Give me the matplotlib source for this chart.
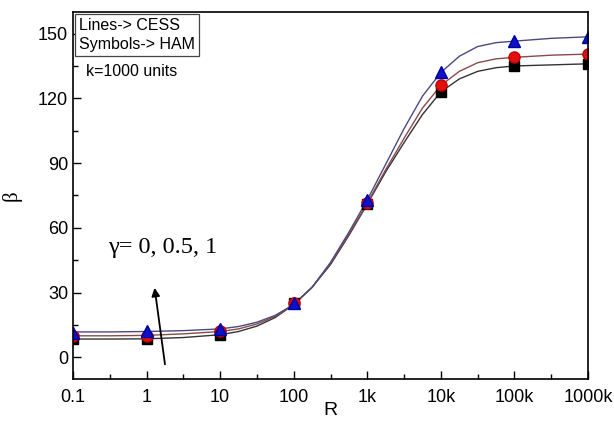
import matplotlib.pyplot as plt
from matplotlib.ticker import FixedLocator

# HAM symbols
r_pts = [0.1, 1, 10, 100, 1e3, 1e4, 1e5, 1e6]
ham_g0 = [8.5, 8.5, 10.5, 25, 71, 123, 135, 136]
ham_g05 = [10, 10, 12, 25, 71.5, 126, 139, 140.5]
ham_g1 = [11.5, 12, 13, 25, 73, 132, 146.5, 148.5]

# CESS lines (quarter decades where they bend)
r_line = [0.1, 0.316, 1, 3.16, 10, 17.8, 31.6, 56.2, 100, 178, 316, 562,
          1e3, 1.78e3, 3.16e3, 5.62e3, 1e4, 1.78e4, 3.16e4, 5.62e4, 1e5, 3.16e5, 1e6]
cess_g0 = [8.5, 8.5, 8.6, 9.2, 10.5, 12, 14.5, 18.5, 24.5, 32.5, 43, 56.5,
           71, 86, 99.5, 112.5, 123, 129, 132.5, 134.2, 135, 135.5, 136]
cess_g05 = [10, 10, 10.2, 10.9, 12, 13.2, 15.5, 19, 24.5, 32.5, 43.5, 57,
            71.5, 87, 101.5, 115.5, 126, 132.5, 136.5, 138.3, 139, 140, 140.5]
cess_g1 = [11.8, 11.8, 12, 12.4, 13.2, 14.3, 16.3, 19.5, 24.5, 32.5, 44, 58,
           73, 89.5, 106, 121, 132, 139.5, 144, 145.8, 146.5, 147.8, 148.5]

x_ticks = [0.1, 1, 10, 100, 1e3, 1e4, 1e5, 1e6]
x_labels = ["0.1", "1", "10", "100", "1k", "10k", "100k", "1000k"]

plt.rcParams['font.family'] = ['Liberation Sans', 'DejaVu Sans']

fig = plt.figure(figsize=(6.14, 4.21), dpi=100)
ax = fig.add_axes([0.1189, 0.0998, 0.8388, 0.8717])

ax.plot(r_line, cess_g0, color="#333333", lw=1.0)
ax.plot(r_line, cess_g05, color="#8a4a4a", lw=1.0)
ax.plot(r_line, cess_g1, color="#4a4a80", lw=1.0)

ax.plot(r_pts, ham_g0, "s", color="black", ms=7, ls="none")
ax.plot(r_pts, ham_g05, "o", color="#e01010", mec="#c00000", ms=8, ls="none")
ax.plot(r_pts, ham_g1, "^", color="#1010c8", mec="#0000a0", ms=8.5, ls="none")

ax.set_xscale("log")
ax.set_xlim(0.1, 1e6)
ax.set_ylim(-10, 160)
ax.xaxis.set_major_locator(FixedLocator(x_ticks))
ax.set_xticklabels(x_labels)
ax.xaxis.set_minor_locator(FixedLocator([10 ** (k + 0.5) for k in range(-1, 6)]))
ax.xaxis.set_minor_formatter(plt.NullFormatter())
ax.set_yticks([0, 30, 60, 90, 120, 150])
ax.set_yticks([15, 45, 75, 105, 135], minor=True)
ax.tick_params(which="both", direction="in", labelsize=13, width=1.0)
ax.tick_params(which="major", length=6)
ax.tick_params(which="minor", length=3.5)
ax.tick_params(axis="x", pad=7)
for s in ax.spines.values():
    s.set_linewidth(1.2)

ax.set_xlabel("R", fontsize=14)
ax.xaxis.set_label_coords(0.5, -0.062)
ax.set_ylabel("β", fontsize=15, family="Liberation Serif")
ax.yaxis.set_label_coords(-0.1, 0.5)

ax.text(0.012, 0.985, "Lines-> CESS\nSymbols-> HAM", transform=ax.transAxes,
        fontsize=11.5, va="top", ha="left", linespacing=1.35,
        bbox=dict(boxstyle="square,pad=0.25", fc="white", ec="#444444", lw=0.9))
ax.text(0.025, 0.837, "k=1000 units", transform=ax.transAxes, fontsize=11.5,
        va="center", ha="left")
ax.text(0.30, 51, "γ= 0, 0.5, 1", fontsize=17.5, family="Liberation Serif",
        va="center", ha="left")
ax.annotate("", xy=(1.27, 33.5), xytext=(1.8, -4.5),
            arrowprops=dict(arrowstyle="-|>", color="black", lw=1.3, mutation_scale=12))

fig.savefig("out.png", dpi=100)
